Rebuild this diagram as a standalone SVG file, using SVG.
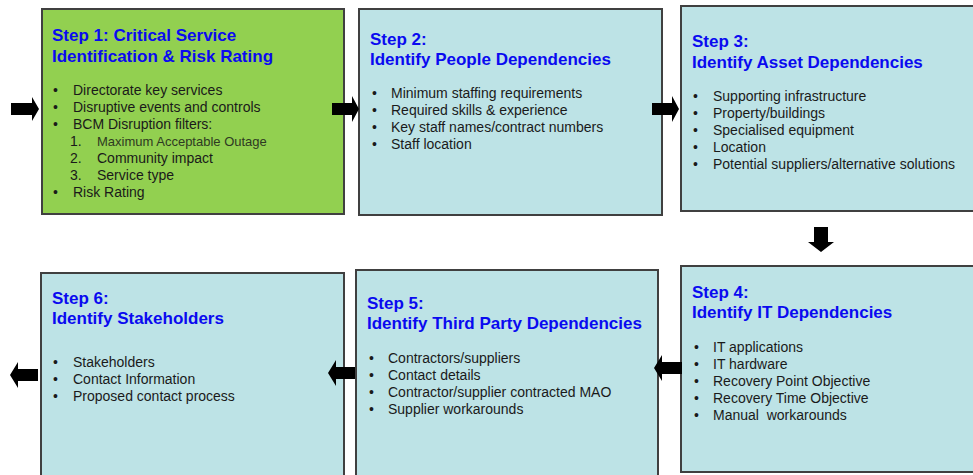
<svg xmlns="http://www.w3.org/2000/svg" width="973" height="475" viewBox="0 0 973 475">
<style>
.box{stroke:#404040;stroke-width:2}
.green{fill:#92D050}
.blue{fill:#BDE3E6}
.t{font-family:"Liberation Sans",Arial,sans-serif;font-size:17px;font-weight:bold;fill:#0A0AF0}
.b{font-family:"Liberation Sans",Arial,sans-serif;font-size:14px;fill:#1a1a1a}
.s{font-family:"Liberation Sans",Arial,sans-serif;font-size:13px;fill:#2e3a22}
.arr{fill:#000}
</style>
<rect width="973" height="475" fill="#fff"/>
<g id="step1">
<rect class="box green" x="42" y="9" width="302" height="205"/>
<text class="t" x="52" y="41">Step 1: Critical Service</text>
<text class="t" x="52" y="62">Identification &amp; Risk Rating</text>
<text class="b"><tspan x="53" y="95">•</tspan><tspan x="73" y="95">Directorate key services</tspan>
<tspan x="53" y="112">•</tspan><tspan x="73" y="112">Disruptive events and controls</tspan>
<tspan x="53" y="129">•</tspan><tspan x="73" y="129">BCM Disruption filters:</tspan>
<tspan x="70" y="146">1.</tspan>
<tspan x="70" y="163">2.</tspan><tspan x="97" y="163">Community impact</tspan>
<tspan x="70" y="180">3.</tspan><tspan x="97" y="180">Service type</tspan>
<tspan x="53" y="197">•</tspan><tspan x="73" y="197">Risk Rating</tspan></text>
<text class="s" x="97" y="146">Maximum Acceptable Outage</text>
</g>
<g id="step2">
<rect class="box blue" x="359" y="9" width="303" height="206"/>
<text class="t" x="370" y="45">Step 2:</text>
<text class="t" x="370" y="65">Identify People Dependencies</text>
<text class="b"><tspan x="372" y="98">•</tspan><tspan x="391" y="98">Minimum staffing requirements</tspan>
<tspan x="372" y="115">•</tspan><tspan x="391" y="115">Required skills &amp; experience</tspan>
<tspan x="372" y="132">•</tspan><tspan x="391" y="132">Key staff names/contract numbers</tspan>
<tspan x="372" y="149">•</tspan><tspan x="391" y="149">Staff location</tspan></text>
</g>
<g id="step3">
<rect class="box blue" x="681" y="6" width="300" height="205"/>
<text class="t" x="692" y="47">Step 3:</text>
<text class="t" x="692" y="68">Identify Asset Dependencies</text>
<text class="b"><tspan x="693" y="101">•</tspan><tspan x="713" y="101">Supporting infrastructure</tspan>
<tspan x="693" y="118">•</tspan><tspan x="713" y="118">Property/buildings</tspan>
<tspan x="693" y="135">•</tspan><tspan x="713" y="135">Specialised equipment</tspan>
<tspan x="693" y="152">•</tspan><tspan x="713" y="152">Location</tspan>
<tspan x="693" y="169">•</tspan><tspan x="713" y="169">Potential suppliers/alternative solutions</tspan></text>
</g>
<g id="step4">
<rect class="box blue" x="681" y="266" width="300" height="206"/>
<text class="t" x="692" y="298">Step 4:</text>
<text class="t" x="692" y="318">Identify IT Dependencies</text>
<text class="b"><tspan x="694" y="352">•</tspan><tspan x="713" y="352">IT applications</tspan>
<tspan x="694" y="369">•</tspan><tspan x="713" y="369">IT hardware</tspan>
<tspan x="694" y="386">•</tspan><tspan x="713" y="386">Recovery Point Objective</tspan>
<tspan x="694" y="403">•</tspan><tspan x="713" y="403">Recovery Time Objective</tspan>
<tspan x="694" y="420">•</tspan><tspan x="713" y="420">Manual&#160; workarounds</tspan></text>
</g>
<g id="step5">
<rect class="box blue" x="356" y="270" width="302" height="215"/>
<text class="t" x="367" y="309">Step 5:</text>
<text class="t" x="367" y="329">Identify Third Party Dependencies</text>
<text class="b"><tspan x="369" y="363">•</tspan><tspan x="388" y="363">Contractors/suppliers</tspan>
<tspan x="369" y="380">•</tspan><tspan x="388" y="380">Contact details</tspan>
<tspan x="369" y="397">•</tspan><tspan x="388" y="397">Contractor/supplier contracted MAO</tspan>
<tspan x="369" y="414">•</tspan><tspan x="388" y="414">Supplier workarounds</tspan></text>
</g>
<g id="step6">
<rect class="box blue" x="41" y="273" width="303" height="215"/>
<text class="t" x="52" y="304">Step 6:</text>
<text class="t" x="52" y="324">Identify Stakeholders</text>
<text class="b"><tspan x="53" y="367">•</tspan><tspan x="73" y="367">Stakeholders</tspan>
<tspan x="53" y="384">•</tspan><tspan x="73" y="384">Contact Information</tspan>
<tspan x="53" y="401">•</tspan><tspan x="73" y="401">Proposed contact process</tspan></text>
</g>
<g id="connectors">
<path class="arr" d="M11,103 H32 V97 L39,109 L32,121 V115 H11 Z"/>
<path class="arr" d="M332,103 H352 V96 L359,109 L352,122 V115 H332 Z"/>
<path class="arr" d="M652,103 H672 V96 L679,109 L672,122 V115 H652 Z"/>
<path class="arr" d="M814,227 H828 V242 H834 L821,252 L808,242 H814 Z"/>
<path class="arr" d="M682,362 H662 V355 L654,368 L662,381 V374 H682 Z"/>
<path class="arr" d="M355,367 H336 V360 L328,373 L336,386 V379 H355 Z"/>
<path class="arr" d="M38,369 H18 V362 L10,375 L18,388 V381 H38 Z"/>
</g>
</svg>
